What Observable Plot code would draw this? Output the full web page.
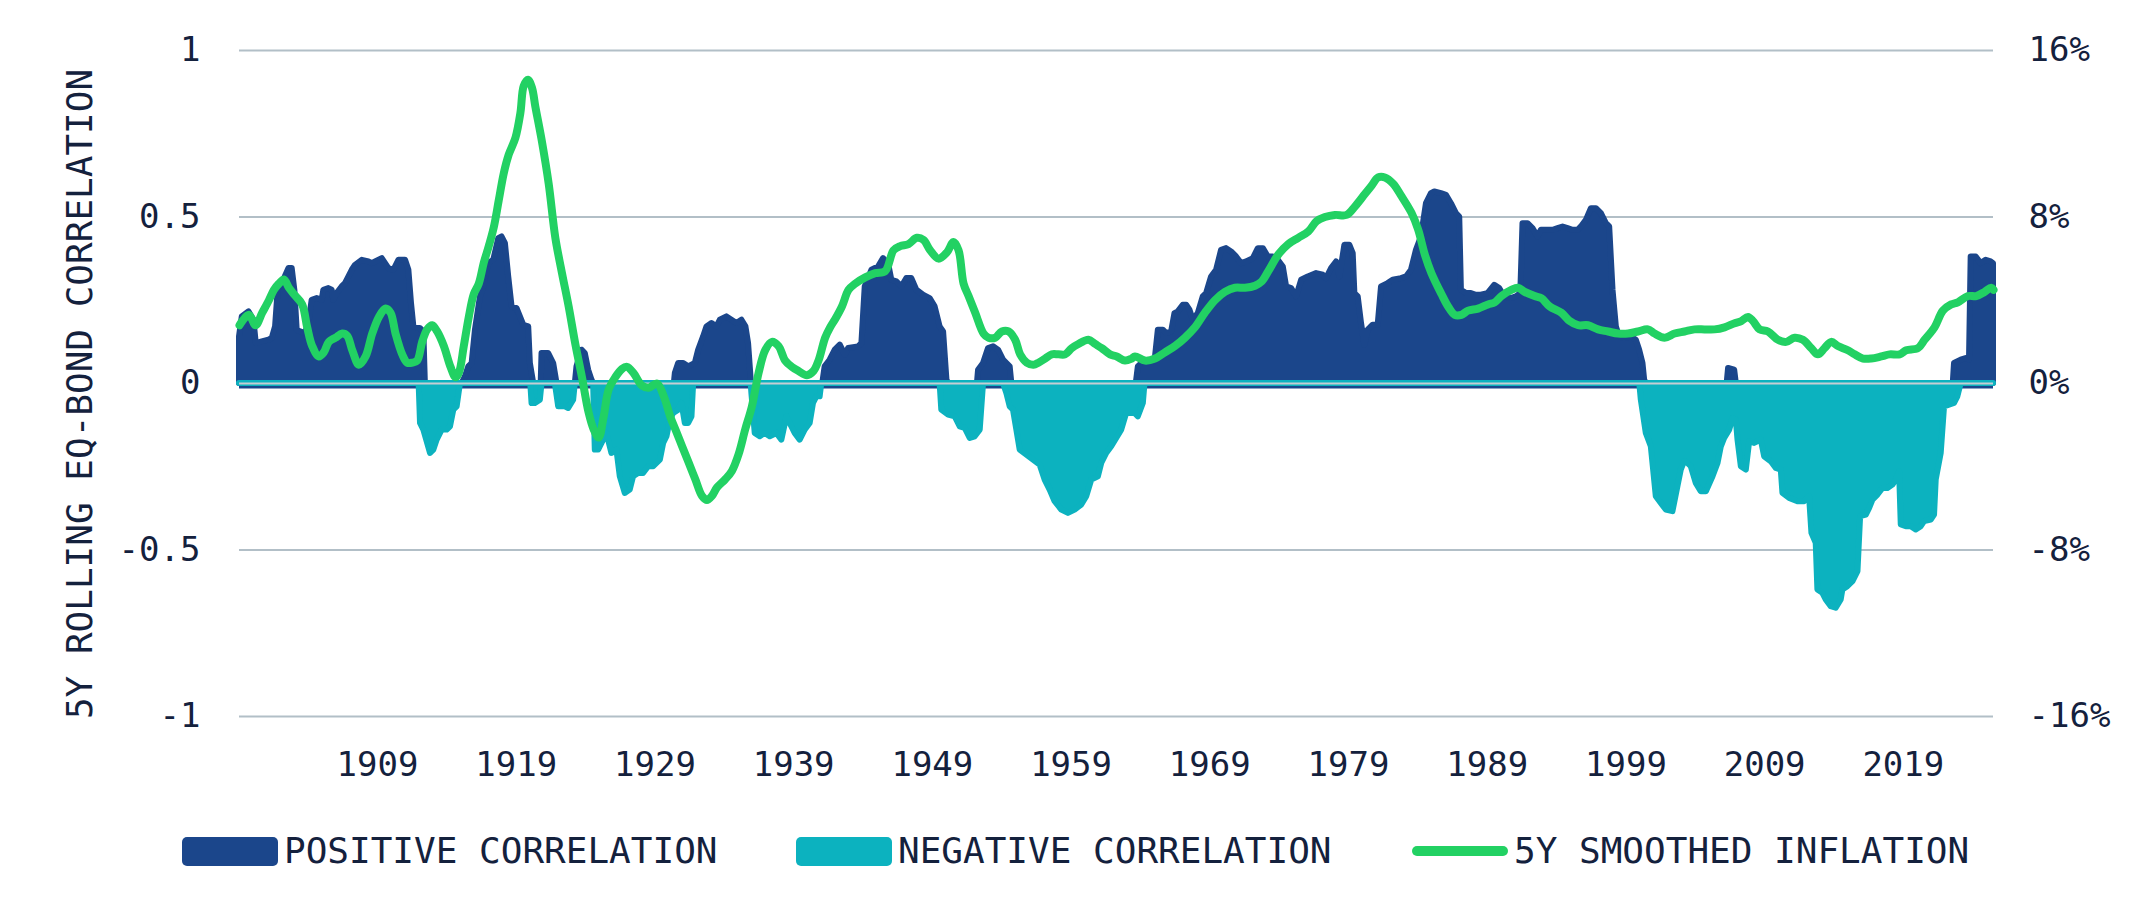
<!DOCTYPE html>
<html>
<head>
<meta charset="utf-8">
<script src="https://cdn.jsdelivr.net/npm/d3@7"></script>
<script src="https://cdn.jsdelivr.net/npm/@observablehq/plot@0.6"></script>
<style>
  html, body { margin: 0; padding: 0; background: #ffffff; }
  #wrap { position: relative; width: 2144px; height: 915px; background: #ffffff; font-family: "DejaVu Sans Mono", monospace; color: #14213d; }
  #legend { position: absolute; left: 0; top: 800px; width: 2144px; height: 115px; }
  .sw { position: absolute; }
  .lt { position: absolute; font-size: 36px; line-height: 36px; white-space: pre; color: #14213d; }
</style>
</head>
<body>
<div id="wrap">
  <div id="chart"></div>
  <div id="legend"></div>
</div>
<script>
// ---------- DATA ----------
const posYears = [1899.05,1899.25,1899.73,1900.09,1900.26,1900.69,1901.17,1901.41,1901.65,1901.84,1902.13,1902.61,1902.85,1903.04,1903.21,1903.45,1903.81,1904.05,1904.29,1904.65,1905.01,1905.13,1905.49,1905.73,1905.85,1906.09,1906.45,1906.69,1906.94,1907.18,1907.42,1907.90,1908.38,1908.62,1908.86,1909.34,1909.58,1909.82,1910.18,1910.54,1911.02,1911.26,1911.45,1911.62,1912.10,1912.34,1912.45,
1915.10,1915.34,1915.58,1915.82,1916.06,1916.42,1916.66,1917.02,1917.38,1917.74,1917.98,1918.22,1918.46,1918.70,1919.06,1919.30,1919.54,1919.90,1920.02,1920.14,1920.26,
1920.80,1920.86,1921.34,1921.70,1921.94,1923.26,1923.38,1923.74,1923.98,1924.22,1924.46,1924.58,
1930.40,1930.47,1930.71,1931.07,1931.43,1931.91,1932.15,1932.51,1932.75,1933.11,1933.47,1933.71,1934.19,1934.55,1934.91,1935.27,1935.56,1935.75,1935.94,1936.00,
1941.10,1941.27,1941.63,1942.00,1942.36,1942.72,1942.96,1943.68,1943.92,1944.16,1944.64,1945.12,1945.48,1945.84,1946.08,1946.44,1946.80,1947.16,1947.52,1947.88,1948.36,1948.84,1949.20,1949.56,1949.81,1950.05,1950.17,
1952.25,1952.33,1952.69,1953.05,1953.41,1953.77,1954.13,1954.61,1954.73,
1963.70,1963.85,1964.09,1965.05,1965.29,1965.65,1965.89,1966.25,1966.49,1966.73,1967.09,1967.33,1967.57,1967.81,1968.17,1968.53,1968.77,1969.13,1969.49,1969.85,1970.21,1970.57,1970.93,1971.29,1971.66,1972.14,1972.50,1972.86,1973.22,1973.58,1973.94,1974.30,1974.54,1974.90,1975.26,1975.62,1976.10,1976.70,1977.18,1977.42,1977.78,1978.14,1978.38,1978.74,1979.10,1979.34,1979.46,1979.70,1979.94,1980.18,1980.42,1980.78,1981.14,1981.38,1981.86,1982.22,1982.82,1983.18,1983.54,1983.90,1984.26,1984.62,1984.98,1985.22,1985.70,1986.06,1986.42,1986.78,1987.02,1987.14,1987.50,1987.86,1988.22,1988.58,1989.06,1989.54,1989.90,1990.26,1990.74,1991.10,1991.42,1991.58,1991.94,1992.30,1992.66,1992.90,1993.39,1993.75,1994.11,1994.47,1994.83,1995.19,1995.55,1995.79,1996.15,1996.51,1996.87,1997.23,1997.59,1997.83,1998.07,1998.31,1998.55,1998.91,1999.39,1999.75,1999.99,2000.23,2000.35,2000.47,
2006.30,2006.40,2006.84,2006.96,
2022.60,2022.69,2023.17,2023.53,2023.77,2023.89,2024.25,2024.61,2024.97,2025.33,2025.50];
const posValues = [0.14,0.20,0.215,0.19,0.12,0.125,0.13,0.135,0.17,0.28,0.30,0.345,0.345,0.28,0.16,0.155,0.15,0.18,0.25,0.255,0.25,0.28,0.285,0.28,0.25,0.27,0.29,0.30,0.32,0.34,0.355,0.37,0.365,0.36,0.365,0.375,0.36,0.345,0.34,0.37,0.37,0.34,0.24,0.17,0.165,0.155,0,
0,0.02,0.05,0.06,0.16,0.26,0.29,0.36,0.37,0.435,0.44,0.42,0.32,0.23,0.225,0.20,0.175,0.17,0.06,0.03,0,
0,0.09,0.09,0.06,0,0,0.05,0.10,0.09,0.04,0.01,0,
0,0.03,0.06,0.06,0.05,0.06,0.10,0.14,0.17,0.18,0.17,0.19,0.20,0.19,0.18,0.19,0.17,0.12,0.01,0,
0,0.05,0.07,0.10,0.115,0.085,0.105,0.11,0.12,0.29,0.34,0.35,0.375,0.36,0.31,0.305,0.29,0.315,0.315,0.28,0.265,0.255,0.23,0.17,0.155,0.01,0,
0,0.04,0.06,0.105,0.11,0.10,0.07,0.05,0,
0,0.05,0.06,0.065,0.16,0.16,0.15,0.155,0.21,0.215,0.235,0.235,0.22,0.19,0.21,0.26,0.27,0.32,0.34,0.40,0.405,0.395,0.38,0.36,0.365,0.375,0.405,0.405,0.38,0.38,0.37,0.35,0.29,0.285,0.26,0.31,0.32,0.33,0.325,0.315,0.345,0.365,0.32,0.415,0.415,0.39,0.27,0.26,0.18,0.115,0.16,0.175,0.175,0.29,0.30,0.31,0.315,0.32,0.34,0.40,0.44,0.54,0.57,0.575,0.57,0.565,0.54,0.51,0.50,0.28,0.27,0.27,0.265,0.265,0.27,0.295,0.285,0.26,0.255,0.26,0.27,0.48,0.48,0.465,0.44,0.46,0.46,0.46,0.465,0.47,0.465,0.46,0.46,0.47,0.49,0.525,0.525,0.51,0.48,0.47,0.28,0.17,0.14,0.135,0.14,0.13,0.10,0.06,0.01,0,
0,0.045,0.04,0,
0,0.06,0.07,0.075,0.07,0.38,0.38,0.36,0.37,0.365,0.36];

const negYears = [1899.05,1912.00,1912.10,1912.34,1912.82,1913.06,1913.30,1913.66,1914.02,1914.26,1914.50,1914.74,1914.98,
1920.05,1920.14,1920.38,1920.74,1920.86,1921.82,1922.06,1922.54,1922.78,1923.14,1923.26,
1924.58,1924.70,1924.94,1925.30,1925.54,1925.90,1926.26,1926.50,1926.86,1927.22,1927.46,1927.82,1928.18,1928.55,1928.91,1929.15,1929.39,1929.63,1929.87,1930.11,1930.35,1930.71,1930.95,1931.19,1931.43,1931.67,1931.79,
1935.94,1935.99,1936.23,1936.59,1936.95,1937.31,1937.79,1938.15,1938.51,1938.75,1939.11,1939.47,1939.83,1940.19,1940.43,1940.67,1940.91,1941.03,
1949.56,1949.68,1950.17,1950.65,1951.01,1951.37,1951.73,1952.09,1952.45,1952.69,
1954.13,1954.37,1954.61,1954.85,1955.09,1955.33,1955.81,1956.29,1956.77,1957.13,1957.49,1957.85,1958.33,1958.81,1959.29,1959.77,1960.13,1960.49,1960.97,1961.21,1961.57,1961.93,1962.29,1962.65,1963.01,1963.37,1963.61,1963.85,1964.21,1964.33,
2000.00,2000.11,2000.47,2000.83,2001.07,2001.19,2001.55,2001.91,2002.39,2002.75,2002.99,2003.23,2003.47,2003.71,2004.07,2004.43,2004.80,2005.28,2005.64,2005.88,2006.12,2006.48,2006.72,2006.96,2007.08,2007.32,2007.68,2007.92,2008.28,2008.76,2009.00,2009.48,2009.84,2010.20,2010.32,2010.80,2011.40,2011.88,2012.24,2012.41,2012.72,2012.84,2013.20,2013.44,2013.80,2014.16,2014.52,2014.64,2015.00,2015.37,2015.73,2015.92,2016.33,2016.57,2016.81,2017.17,2017.53,2017.89,2018.25,2018.49,2018.73,2018.85,2019.21,2019.57,2019.93,2020.29,2020.53,2021.01,2021.25,2021.37,2021.73,2021.97,2022.33,2022.69,2022.93,2023.17,2025.50];
const negValues = [0,0,-0.12,-0.14,-0.21,-0.20,-0.17,-0.14,-0.14,-0.13,-0.08,-0.07,0,
0,-0.06,-0.06,-0.05,0,0,-0.07,-0.07,-0.075,-0.05,0,
0,-0.20,-0.20,-0.17,-0.15,-0.21,-0.20,-0.28,-0.33,-0.32,-0.28,-0.27,-0.27,-0.25,-0.25,-0.24,-0.23,-0.18,-0.16,-0.11,-0.09,-0.08,-0.06,-0.12,-0.12,-0.10,0,
0,-0.03,-0.15,-0.16,-0.15,-0.16,-0.15,-0.17,-0.10,-0.12,-0.15,-0.17,-0.14,-0.12,-0.06,-0.04,-0.04,0,
0,-0.08,-0.095,-0.10,-0.13,-0.135,-0.165,-0.16,-0.14,0,
0,-0.03,-0.07,-0.08,-0.14,-0.20,-0.215,-0.23,-0.245,-0.29,-0.32,-0.355,-0.38,-0.39,-0.38,-0.365,-0.34,-0.29,-0.28,-0.24,-0.21,-0.19,-0.165,-0.14,-0.09,-0.09,-0.09,-0.10,-0.06,0,
0,-0.05,-0.15,-0.19,-0.29,-0.34,-0.36,-0.38,-0.385,-0.31,-0.26,-0.235,-0.24,-0.25,-0.30,-0.325,-0.325,-0.28,-0.24,-0.19,-0.165,-0.14,-0.105,-0.11,-0.17,-0.25,-0.26,-0.175,-0.18,-0.17,-0.22,-0.235,-0.255,-0.26,-0.33,-0.345,-0.355,-0.355,-0.34,-0.45,-0.48,-0.62,-0.63,-0.65,-0.67,-0.675,-0.65,-0.62,-0.61,-0.595,-0.565,-0.40,-0.395,-0.375,-0.35,-0.335,-0.315,-0.315,-0.305,-0.29,-0.265,-0.425,-0.43,-0.43,-0.44,-0.43,-0.415,-0.41,-0.395,-0.29,-0.21,-0.07,-0.065,-0.06,-0.04,0,0];

const inflYears = [1899.05,1899.25,1899.73,1900.21,1900.69,1901.17,1901.53,1901.89,1902.25,1902.61,1903.09,1903.57,1903.93,1904.29,1904.77,1905.13,1905.49,1905.97,1906.45,1906.81,1907.18,1907.66,1908.14,1908.62,1909.10,1909.58,1909.94,1910.30,1910.78,1911.14,1911.50,1911.86,1912.22,1912.58,1912.94,1913.30,1913.78,1914.26,1914.62,1914.86,1915.22,1915.58,1915.94,1916.30,1916.66,1917.02,1917.38,1917.74,1918.10,1918.46,1918.94,1919.30,1919.54,1919.85,1920.14,1920.38,1920.86,1921.34,1921.82,1922.30,1922.78,1923.26,1923.74,1924.22,1924.58,1924.94,1925.30,1925.66,1926.14,1926.62,1926.98,1927.46,1928.06,1928.55,1929.15,1929.63,1930.11,1930.47,1930.95,1931.43,1931.91,1932.39,1932.75,1933.11,1933.47,1934.07,1934.55,1935.03,1935.51,1935.99,1936.47,1936.95,1937.43,1937.91,1938.39,1938.87,1939.35,1939.95,1940.43,1940.79,1941.27,1941.63,1942.00,1942.48,1942.96,1943.44,1944.16,1944.88,1945.60,1946.20,1946.68,1947.28,1947.88,1948.36,1948.84,1949.44,1950.05,1950.53,1950.89,1951.25,1951.61,1952.09,1952.69,1953.05,1953.53,1954.01,1954.49,1954.97,1955.33,1955.81,1956.29,1956.65,1957.13,1957.61,1958.09,1958.57,1959.05,1959.53,1960.25,1960.73,1961.21,1961.81,1962.29,1962.89,1963.37,1963.61,1964.33,1965.05,1965.77,1966.49,1967.21,1967.93,1968.65,1969.37,1970.09,1970.81,1971.54,1972.26,1972.74,1973.22,1973.94,1974.66,1975.38,1976.10,1976.70,1977.30,1978.02,1978.86,1979.46,1980.18,1980.66,1981.14,1981.62,1982.22,1982.82,1983.54,1984.02,1984.50,1984.98,1985.70,1986.18,1986.66,1987.14,1987.62,1988.34,1989.06,1989.54,1990.02,1990.74,1991.22,1991.70,1992.42,1992.90,1993.51,1994.35,1994.95,1995.55,1996.27,1996.99,1997.71,1998.43,1999.15,1999.87,2000.59,2001.07,2001.79,2002.51,2003.23,2003.95,2004.67,2005.39,2006.11,2006.84,2007.32,2007.80,2008.16,2008.64,2009.24,2009.96,2010.56,2011.16,2011.76,2012.36,2012.84,2013.32,2013.80,2014.28,2015.00,2015.49,2016.09,2016.69,2017.41,2018.01,2018.73,2019.21,2020.05,2020.53,2021.25,2021.85,2022.45,2022.93,2023.65,2024.25,2024.85,2025.33,2025.50];
const inflValues = [2.8,3.0,3.3,2.8,3.4,4.0,4.5,4.8,5.0,4.6,4.2,3.8,2.7,1.8,1.3,1.5,2.0,2.2,2.4,2.3,1.6,0.9,1.3,2.4,3.2,3.6,3.4,2.4,1.4,1.0,1.0,1.1,2.0,2.6,2.8,2.5,1.8,0.8,0.3,0.5,1.8,3.2,4.3,4.8,5.8,6.6,7.5,8.8,10.1,11.0,11.8,13.0,14.3,14.6,14.2,13.3,11.6,9.6,7.0,5.3,3.7,1.9,0.3,-1.4,-2.2,-2.6,-1.6,-0.3,0.3,0.7,0.8,0.5,-0.1,-0.2,0.0,-0.6,-1.6,-2.2,-3.0,-3.8,-4.6,-5.4,-5.6,-5.4,-5.0,-4.6,-4.2,-3.4,-2.2,-1.1,0.5,1.6,2.0,1.8,1.1,0.8,0.6,0.4,0.6,1.1,2.2,2.7,3.1,3.7,4.5,4.8,5.1,5.3,5.4,6.4,6.6,6.7,7.0,6.9,6.4,6.0,6.3,6.8,6.4,4.8,4.2,3.4,2.4,2.2,2.2,2.5,2.5,2.1,1.4,1.0,0.9,1.0,1.2,1.4,1.4,1.4,1.7,1.9,2.1,1.9,1.7,1.4,1.3,1.1,1.2,1.3,1.1,1.2,1.5,1.8,2.2,2.7,3.4,4.0,4.4,4.6,4.6,4.7,4.9,5.4,6.2,6.7,7.0,7.3,7.8,8.0,8.1,8.1,8.5,9.1,9.5,9.9,9.9,9.6,9.0,8.2,7.4,6.2,5.3,4.3,3.7,3.3,3.3,3.5,3.6,3.8,3.9,4.2,4.5,4.6,4.4,4.2,4.1,3.7,3.4,3.0,2.8,2.8,2.6,2.5,2.4,2.4,2.5,2.6,2.4,2.2,2.4,2.5,2.6,2.6,2.6,2.7,2.9,3.0,3.2,3.0,2.6,2.5,2.1,2.0,2.2,2.1,1.7,1.4,1.7,2.0,1.8,1.6,1.4,1.2,1.2,1.3,1.4,1.4,1.6,1.7,2.1,2.7,3.5,3.8,3.9,4.2,4.2,4.4,4.6,4.5];

const xTicks = [1909,1919,1929,1939,1949,1959,1969,1979,1989,1999,2009,2019];
const yTicks = [-1,-0.5,0,0.5,1];
const inflScale = 16; // 1.0 correlation = 16% inflation on the right axis
const yTitle = "5Y ROLLING EQ-BOND CORRELATION";
const legendItems = ["POSITIVE CORRELATION","NEGATIVE CORRELATION","5Y SMOOTHED INFLATION"];

// ---------- STYLE ----------
const BLUE = "#1b468b", TEAL = "#0cb2bf", GREEN = "#22d163", GRID = "#b2bfc7", ZERO = "#c6cdd3", INK = "#14213d";

const pos = posYears.map((y, i) => ({year: y, value: posValues[i]}));
const neg = negYears.map((y, i) => ({year: y, value: negValues[i]}));
const infl = inflYears.map((y, i) => ({year: y, value: inflValues[i]}));
const fmt = d => String(d);

const chart = Plot.plot({
  width: 2144,
  height: 800,
  marginTop: 50,
  marginBottom: 84,
  marginLeft: 239,
  marginRight: 151,
  x: {domain: [1899.05, 2025.5]},
  y: {domain: [-1, 1]},
  style: {fontFamily: "'DejaVu Sans Mono', monospace", fontSize: "34px", color: INK, background: "#ffffff", overflow: "visible"},
  marks: [
    Plot.ruleY([-1, -0.5, 0.5, 1], {stroke: GRID, strokeWidth: 2}),
    Plot.areaY(pos, {x: "year", y: "value", fill: BLUE, stroke: BLUE, strokeWidth: 6, strokeLinejoin: "round"}),
    Plot.ruleY([0], {stroke: BLUE, strokeWidth: 5, dy: 2.5}),
    Plot.areaY(neg, {x: "year", y: "value", fill: TEAL, stroke: TEAL, strokeWidth: 6, strokeLinejoin: "round"}),
    Plot.ruleY([0], {stroke: ZERO, strokeWidth: 2}),
    Plot.lineY(infl, {x: "year", y: d => d.value / inflScale, stroke: GREEN, strokeWidth: 8, curve: "catmull-rom", strokeLinecap: "round", strokeLinejoin: "round"}),
    Plot.axisX({ticks: xTicks, tickSize: 0, tickPadding: 35, tickFormat: fmt, label: null, fontSize: 34}),
    Plot.axisY({anchor: "left", ticks: yTicks, tickSize: 0, tickPadding: 39, tickFormat: fmt, label: null, fontSize: 34}),
    Plot.axisY({anchor: "right", ticks: yTicks, tickSize: 0, tickPadding: 35, tickFormat: d => fmt(d * inflScale) + "%", label: null, fontSize: 34})
  ]
});
document.getElementById("chart").appendChild(chart);

// rotated y-axis title as real SVG text
d3.select(chart).append("text")
  .attr("transform", "translate(79,394) rotate(-90)")
  .attr("text-anchor", "middle")
  .attr("dominant-baseline", "central")
  .attr("fill", INK)
  .style("font-family", "'DejaVu Sans Mono', monospace")
  .style("font-size", "36px")
  .text(yTitle);

// ---------- LEGEND ----------
const legend = document.getElementById("legend");
const legendLayout = [
  {swX: 182, txX: 284, kind: "box", color: BLUE},
  {swX: 796, txX: 898, kind: "box", color: TEAL},
  {swX: 1412, txX: 1514, kind: "line", color: GREEN}
];
legendLayout.forEach((l, i) => {
  const sw = document.createElement("div");
  sw.className = "sw";
  sw.style.left = l.swX + "px";
  sw.style.width = "96px";
  sw.style.background = l.color;
  if (l.kind === "box") {
    sw.style.top = "37px"; sw.style.height = "29px"; sw.style.borderRadius = "5px";
  } else {
    sw.style.top = "46px"; sw.style.height = "10px"; sw.style.borderRadius = "5px";
  }
  legend.appendChild(sw);
  const t = document.createElement("div");
  t.className = "lt";
  t.style.left = l.txX + "px";
  t.style.top = "33px";
  t.textContent = legendItems[i];
  legend.appendChild(t);
});
</script>
</body>
</html>
